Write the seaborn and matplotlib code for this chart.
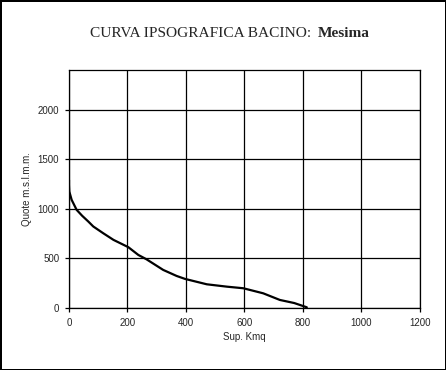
import pandas as pd
import matplotlib
matplotlib.use("Agg")
import matplotlib.pyplot as plt
import seaborn as sns

# ---------- data ----------
superficie = [0, 0, 1, 9, 26, 45, 66, 83, 117, 152, 203, 237, 265, 322, 368, 397,
              471, 540, 596, 664, 721, 770, 813]
quota = [1290, 1240, 1175, 1091, 990, 930, 872, 822, 754, 687, 613, 535, 491, 384,
         323, 293, 239, 215, 199, 148, 81, 50, 7]
x_ticks = [0, 200, 400, 600, 800, 1000, 1200]
y_ticks = [0, 500, 1000, 1500, 2000]

df = pd.DataFrame({"sup": superficie, "quota": quota})

sns.set_style("white")
plt.rcParams["font.family"] = ["Liberation Sans", "DejaVu Sans"]

fig = plt.figure(figsize=(4.46, 3.70), dpi=100, edgecolor="black", linewidth=2)
ax = fig.add_axes([0.1547, 0.1676, 0.7870, 0.6432])

sns.lineplot(data=df, x="sup", y="quota", ax=ax, color="black", linewidth=1.6,
             sort=False, estimator=None)

ax.set_xlim(0, 1200)
ax.set_ylim(0, 2400)
ax.set_xticks(x_ticks)
ax.set_yticks(y_ticks)
ax.grid(True, color="black", linewidth=0.9)
for s in ax.spines.values():
    s.set_color("black")
    s.set_linewidth(0.9)
ax.tick_params(axis="both", direction="out", length=3, width=0.9, color="black",
               labelsize=7, pad=4, bottom=True, left=True)
ax.set_xlabel("Sup. Kmq", fontsize=7, labelpad=3)
ax.set_ylabel("Quote m.s.l.m.m.", fontsize=7, labelpad=4)

# title in two pieces: plain serif + bold name
fig.text(311 / 446, 1 - 37 / 370, "CURVA IPSOGRAFICA BACINO:", ha="right",
         va="baseline", fontsize=11.1, family="Liberation Serif")
fig.text(318 / 446, 1 - 37 / 370, "Mesima", ha="left", va="baseline",
         fontsize=11.1, fontweight="bold", family="Liberation Serif")

fig.savefig("out.png", dpi=100, edgecolor=fig.get_edgecolor())
